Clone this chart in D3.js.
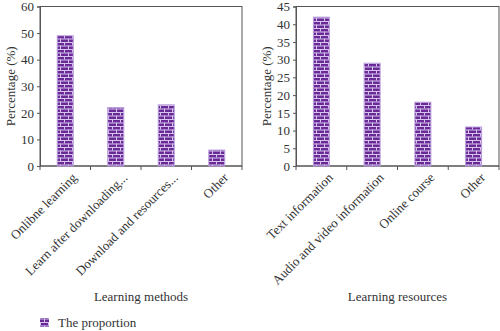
<!DOCTYPE html>
<html><head><meta charset="utf-8">
<script src="https://cdn.jsdelivr.net/npm/d3@7"></script>
<style>
body{margin:0;background:#fff;}
svg{display:block;}
text{font-family:"Liberation Serif","Times New Roman",serif;fill:#333;}
</style></head>
<body><svg id="c" width="500" height="331"></svg>
<script>
const methodCats = ["Onlibne learning","Learn after downloading...","Download and resources...","Other"];
const methodVals = [49,22,23,6];
const methodTicks = [0,10,20,30,40,50,60];
const resourceCats = ["Text information","Audio and video information","Online course","Other"];
const resourceVals = [42,29,18,11];
const resourceTicks = [0,5,10,15,20,25,30,35,40,45];
const legendLabel = "The proportion";

const FS = "13px";
const svg = d3.select("#c");
const defs = svg.append("defs");
const pat = defs.append("pattern").attr("id","brick").attr("patternUnits","userSpaceOnUse")
  .attr("width",8).attr("height",7);
pat.append("rect").attr("width",8).attr("height",7).attr("fill","#6a2a96");
const mortar="#d6c3ee";
pat.append("rect").attr("x",0).attr("y",0).attr("width",8).attr("height",1).attr("fill",mortar);
pat.append("rect").attr("x",0).attr("y",3.5).attr("width",8).attr("height",1).attr("fill",mortar);
pat.append("rect").attr("x",0).attr("y",0).attr("width",1).attr("height",3.5).attr("fill",mortar);
pat.append("rect").attr("x",4).attr("y",3.5).attr("width",1).attr("height",3.5).attr("fill",mortar);

function panel(cfg){
  const g = svg.append("g");
  const x = d3.scaleBand().domain(cfg.cats).range([cfg.x0,cfg.x1]);
  const y = d3.scaleLinear().domain([0,cfg.max]).range([cfg.y0,cfg.y1]);
  g.append("rect").attr("x",cfg.x0).attr("y",cfg.y1).attr("width",cfg.x1-cfg.x0).attr("height",cfg.y0-cfg.y1)
    .attr("fill","none").attr("stroke","#555").attr("stroke-width",1);
  const ya = g.append("g").attr("transform",`translate(${cfg.x0},0)`)
    .call(d3.axisLeft(y).tickValues(cfg.ticks).tickSize(3).tickPadding(3));
  ya.select(".domain").attr("stroke","#555");
  ya.selectAll(".tick line").attr("stroke","#555");
  ya.selectAll("text").style("font-family","Liberation Serif").style("font-size",FS).attr("fill","#333");
  const xa = g.append("g");
  xa.append("line").attr("x1",cfg.x0).attr("x2",cfg.x1).attr("y1",cfg.y0).attr("y2",cfg.y0).attr("stroke","#555");
  const bounds = cfg.cats.map(c=>x(c)).concat([cfg.x1]);
  xa.selectAll("line.tk").data(bounds).join("line").attr("class","tk")
    .attr("x1",d=>d).attr("x2",d=>d).attr("y1",cfg.y0).attr("y2",cfg.y0+4).attr("stroke","#555");
  const bw = 16;
  g.selectAll("rect.bar").data(cfg.vals).join("rect").attr("class","bar")
    .attr("x",(d,i)=>x(cfg.cats[i])+x.bandwidth()/2-bw/2)
    .attr("y",d=>y(d)).attr("width",bw).attr("height",d=>cfg.y0-y(d))
    .attr("fill","url(#brick)").attr("stroke","#b89ddb").attr("stroke-width",1);
  g.selectAll("text.xl").data(cfg.cats).join("text").attr("class","xl")
    .attr("transform",d=>`translate(${x(d)+x.bandwidth()/2+6},${cfg.y0+6}) rotate(-45)`)
    .attr("text-anchor","end").attr("dy","0.7em").style("font-size",FS).text(d=>d);
  g.append("text").attr("transform",`translate(${cfg.yt},${(cfg.y0+cfg.y1)/2}) rotate(-90)`)
    .attr("text-anchor","middle").attr("dy","0.35em").style("font-size",FS).text("Percentage (%)");
  g.append("text").attr("x",(cfg.x0+cfg.x1)/2).attr("y",301).attr("text-anchor","middle")
    .style("font-size",FS).text(cfg.title);
}

panel({cats:methodCats,vals:methodVals,ticks:methodTicks,max:60,x0:40,x1:242,y0:166,y1:6.5,yt:10,title:"Learning methods"});
panel({cats:resourceCats,vals:resourceVals,ticks:resourceTicks,max:45,x0:296,x1:499,y0:166,y1:6.5,yt:266,title:"Learning resources"});

const lg = svg.append("g");
lg.append("rect").attr("x",40).attr("y",318).attr("width",9).attr("height",9).attr("fill","url(#brick)");
lg.append("text").attr("x",58).attr("y",327).style("font-size",FS).text(legendLabel);
</script></body></html>
